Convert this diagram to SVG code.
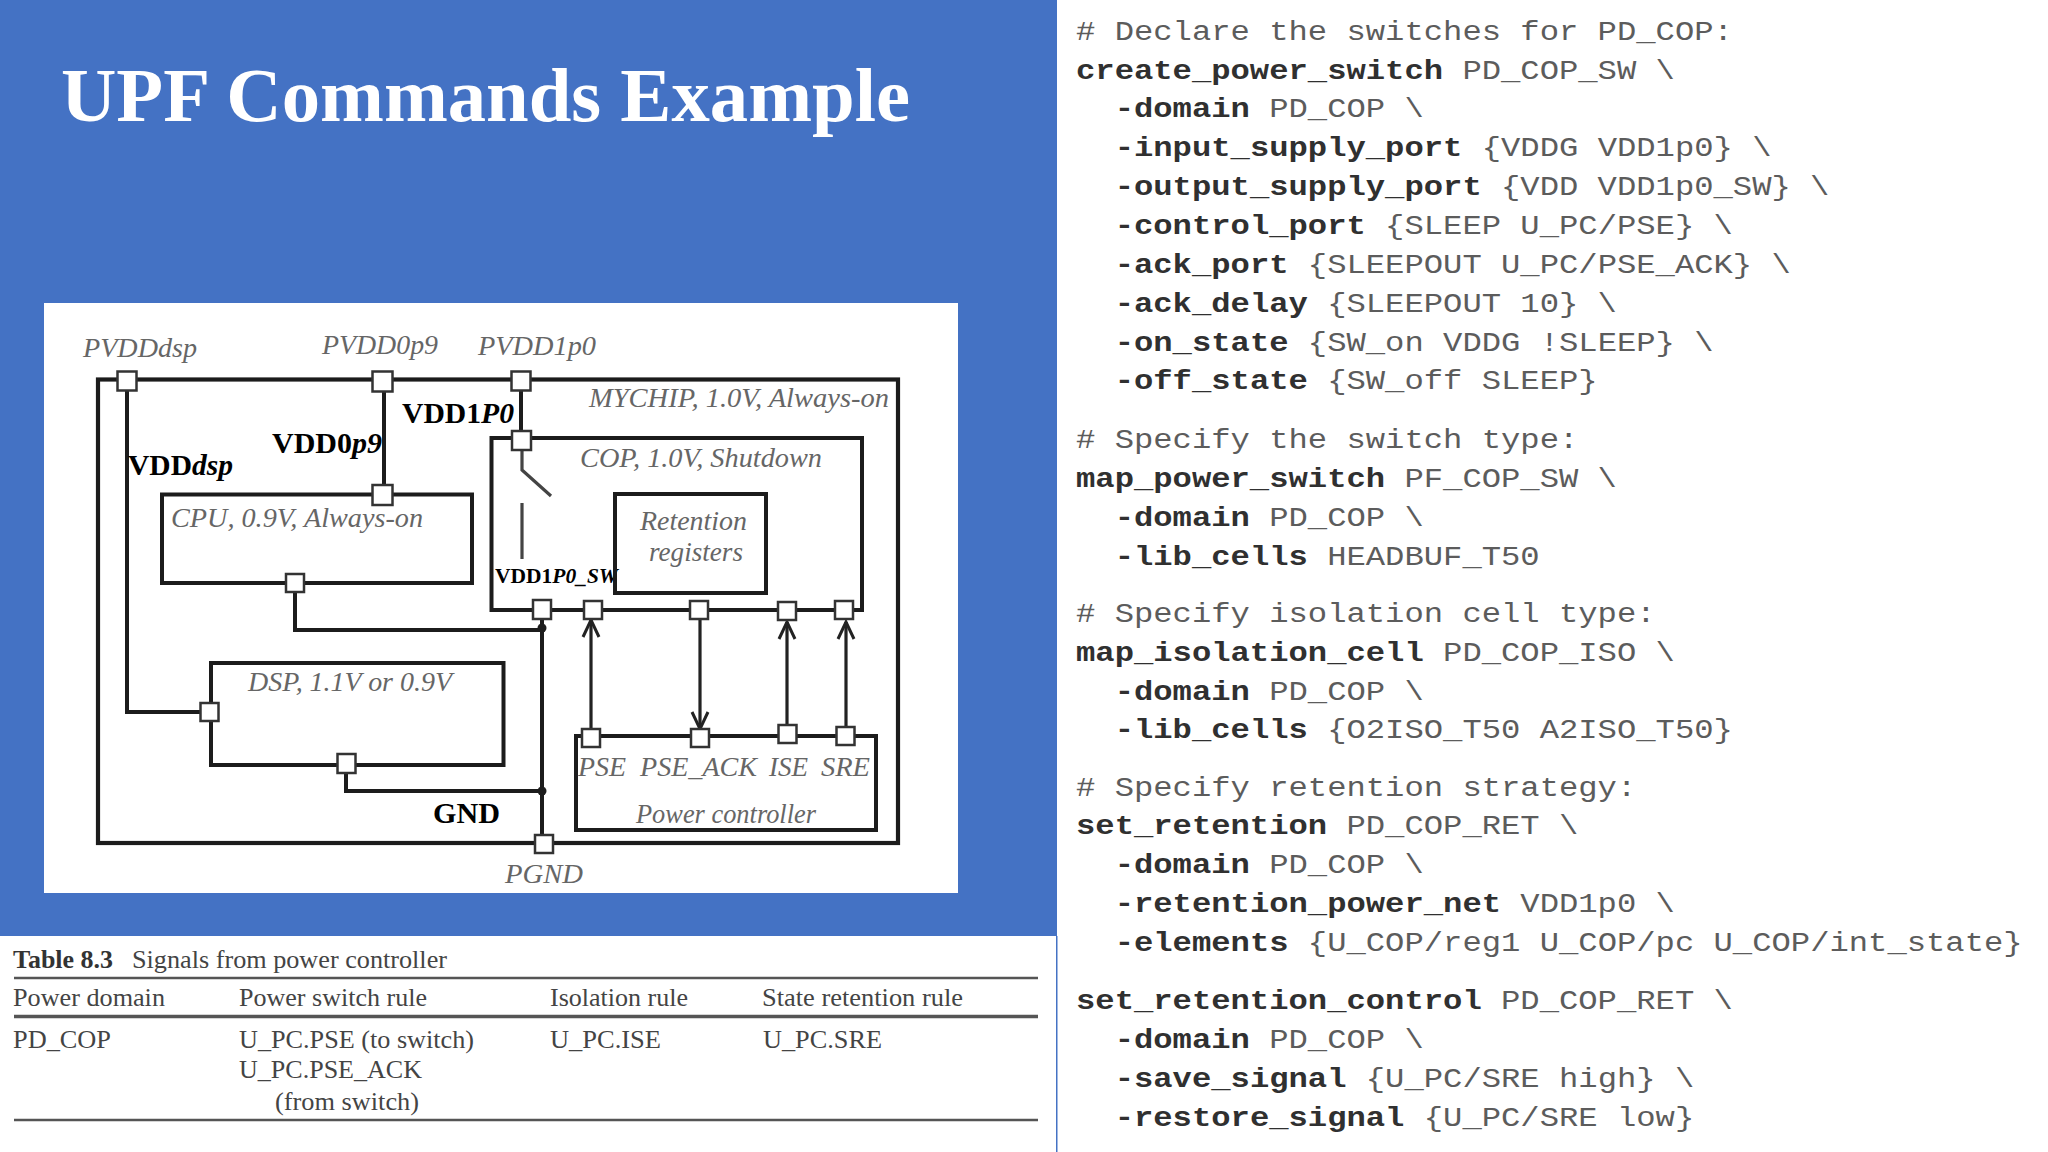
<svg xmlns="http://www.w3.org/2000/svg" width="2048" height="1152" viewBox="0 0 2048 1152">
<defs>
<marker id="open" markerUnits="userSpaceOnUse" markerWidth="24" markerHeight="24" refX="21" refY="12" orient="auto"><path d="M4 4 L21 12 L4 20" fill="none" stroke="#222" stroke-width="3"/></marker>
</defs>
<style>
.box{fill:none;stroke:#1c1c1c;stroke-width:4.2}
.thin{stroke-width:4}
.pad{fill:#fff;stroke:#333;stroke-width:2.5}
.wire{fill:none;stroke:#1c1c1c;stroke-width:4}
.sig{fill:none;stroke:#222;stroke-width:3.2;marker-end:url(#open)}
.sw{fill:none;stroke:#444;stroke-width:3.2}
.lab{font:italic 27px "Liberation Serif",serif;fill:#666}
.blk{font:bold 29px "Liberation Serif",serif;fill:#000}
.blk tspan{font-style:italic}
.tb{font:25px "Liberation Serif",serif;fill:#444}
.rule{stroke:#555;fill:none}
.code{font:27px "Liberation Mono",monospace;fill:#5c5c5c}
.code .k{font-weight:bold;fill:#303030}
</style>
<rect width="2048" height="1152" fill="#fff"/>
<rect width="1057" height="936" fill="#4472c4"/>
<rect x="1056" y="936" width="1.5" height="216" fill="#4472c4"/>
<text x="61" y="121" font-family="Liberation Serif, serif" font-weight="bold" font-size="76" fill="#fff" textLength="849" lengthAdjust="spacingAndGlyphs">UPF Commands Example</text>
<rect x="44" y="303" width="914" height="590" fill="#fff"/>

<g id="connectors">
<path class="wire" d="M127 381V712H209"/>
<path class="wire" d="M384 381V495"/>
<path class="wire" d="M521 381V440"/>
<path class="sw" d="M522 440V470L551 496"/>
<path class="sw" d="M522 503V559"/>
<path class="wire" d="M295 583V630H542"/>
<path class="wire" d="M346 765V791H542"/>
<path class="wire" d="M542 610V844"/>
<circle cx="542" cy="628" r="4.5" fill="#1c1c1c"/>
<circle cx="542" cy="791" r="4.5" fill="#1c1c1c"/>
<path class="sig" d="M591 738V620"/>
<path class="sig" d="M700 610V729"/>
<path class="sig" d="M787 734V622"/>
<path class="sig" d="M846 736V622"/>
</g>

<g id="mychip">
<rect class="box" x="98" y="379.500" width="800" height="463.500"/>
<text class="lab" x="589" y="407" textLength="300" lengthAdjust="spacingAndGlyphs">MYCHIP, 1.0V, Always-on</text>
<rect class="pad" x="117.500" y="371.500" width="19" height="19"/>
<rect class="pad" x="372.500" y="371.500" width="20" height="20"/>
<rect class="pad" x="511.500" y="371.500" width="19" height="19"/>
<rect class="pad" x="535" y="835" width="18" height="18"/>
<text class="lab" x="83" y="357" textLength="114" lengthAdjust="spacingAndGlyphs">PVDDdsp</text>
<text class="lab" x="322" y="354" textLength="116" lengthAdjust="spacingAndGlyphs">PVDD0p9</text>
<text class="lab" x="478" y="355" textLength="118" lengthAdjust="spacingAndGlyphs">PVDD1p0</text>
<text class="lab" x="505" y="883" textLength="78" lengthAdjust="spacingAndGlyphs">PGND</text>
<text class="blk" x="128" y="475" textLength="105" lengthAdjust="spacingAndGlyphs">VDD<tspan>dsp</tspan></text>
<text class="blk" x="272" y="453" textLength="110" lengthAdjust="spacingAndGlyphs">VDD0<tspan>p9</tspan></text>
<text class="blk" x="402" y="423" textLength="112" lengthAdjust="spacingAndGlyphs">VDD1<tspan>P0</tspan></text>
<text class="blk" x="433" y="823" textLength="67" lengthAdjust="spacingAndGlyphs">GND</text>
</g>

<g id="cpu">
<rect class="box thin" x="162" y="494.500" width="310" height="88.500"/>
<text class="lab" x="171" y="527" textLength="252" lengthAdjust="spacingAndGlyphs">CPU, 0.9V, Always-on</text>
<rect class="pad" x="372.500" y="485" width="20" height="20"/>
<rect class="pad" x="286" y="574" width="18" height="18"/>
</g>

<g id="dsp">
<rect class="box thin" x="211" y="663" width="292.500" height="102"/>
<text class="lab" x="248" y="691" textLength="204" lengthAdjust="spacingAndGlyphs">DSP, 1.1V or 0.9V</text>
<rect class="pad" x="200.500" y="703" width="18" height="18"/>
<rect class="pad" x="337.500" y="754" width="18" height="19"/>
</g>

<g id="cop">
<rect class="box thin" x="491.500" y="438" width="370.500" height="172"/>
<text class="lab" x="580" y="467" textLength="242" lengthAdjust="spacingAndGlyphs">COP, 1.0V, Shutdown</text>
<rect class="pad" x="512" y="431" width="19" height="19"/>
<rect class="pad" x="533" y="600" width="18" height="19"/>
<rect class="pad" x="584" y="601" width="18" height="18"/>
<rect class="pad" x="690" y="601" width="18" height="18"/>
<rect class="pad" x="778" y="602" width="18" height="18"/>
<rect class="pad" x="835" y="601" width="18" height="18"/>
<text x="495" y="583" font-family="Liberation Serif, serif" font-weight="bold" font-size="21" textLength="123" lengthAdjust="spacingAndGlyphs">VDD1<tspan font-style="italic">P0_SW</tspan></text>
</g>

<g id="retention">
<rect class="box thin" x="615" y="494" width="151" height="99"/>
<text class="lab" x="640" y="530" textLength="107" lengthAdjust="spacingAndGlyphs">Retention</text>
<text class="lab" x="649" y="561" textLength="94" lengthAdjust="spacingAndGlyphs">registers</text>
</g>

<g id="power-controller">
<rect class="box thin" x="576" y="736" width="300" height="94"/>
<rect class="pad" x="582" y="729" width="18" height="18"/>
<rect class="pad" x="691" y="729" width="18" height="18"/>
<rect class="pad" x="778.500" y="725" width="18" height="18"/>
<rect class="pad" x="836.500" y="727" width="18" height="18"/>
<text class="lab" x="578" y="776" textLength="48" lengthAdjust="spacingAndGlyphs">PSE</text>
<text class="lab" x="640" y="776" textLength="117" lengthAdjust="spacingAndGlyphs">PSE_ACK</text>
<text class="lab" x="769" y="776" textLength="39" lengthAdjust="spacingAndGlyphs">ISE</text>
<text class="lab" x="821" y="776" textLength="49" lengthAdjust="spacingAndGlyphs">SRE</text>
<text class="lab" x="636" y="823" textLength="180" lengthAdjust="spacingAndGlyphs">Power controller</text>
</g>

<g id="table">
<text class="tb" x="13" y="968" textLength="100" lengthAdjust="spacingAndGlyphs" style="font-weight:bold;fill:#333">Table 8.3</text>
<text class="tb" x="132" y="968" textLength="315" lengthAdjust="spacingAndGlyphs">Signals from power controller</text>
<path class="rule" stroke-width="2.500" d="M14 978H1038"/>
<text class="tb" x="13" y="1006" textLength="152" lengthAdjust="spacingAndGlyphs">Power domain</text>
<text class="tb" x="239" y="1006" textLength="188" lengthAdjust="spacingAndGlyphs">Power switch rule</text>
<text class="tb" x="550" y="1006" textLength="138" lengthAdjust="spacingAndGlyphs">Isolation rule</text>
<text class="tb" x="762" y="1006" textLength="201" lengthAdjust="spacingAndGlyphs">State retention rule</text>
<path class="rule" stroke-width="3.500" d="M14 1016.500H1038"/>
<text class="tb" x="13" y="1048" textLength="98" lengthAdjust="spacingAndGlyphs">PD_COP</text>
<text class="tb" x="239" y="1048" textLength="235" lengthAdjust="spacingAndGlyphs">U_PC.PSE (to switch)</text>
<text class="tb" x="239" y="1078" textLength="183" lengthAdjust="spacingAndGlyphs">U_PC.PSE_ACK</text>
<text class="tb" x="275" y="1110" textLength="144" lengthAdjust="spacingAndGlyphs">(from switch)</text>
<text class="tb" x="550" y="1048" textLength="111" lengthAdjust="spacingAndGlyphs">U_PC.ISE</text>
<text class="tb" x="763" y="1048" textLength="119" lengthAdjust="spacingAndGlyphs">U_PC.SRE</text>
<path class="rule" stroke-width="2.500" d="M14 1120H1038"/>
</g>

<g id="code" transform="translate(1076 0) scale(1.193 1)" class="code" xml:space="preserve">
<text y="40"># Declare the switches for PD_COP:</text>
<text y="79"><tspan class="k">create_power_switch</tspan> PD_COP_SW \</text>
<text x="32.400" y="117"><tspan class="k">-domain</tspan> PD_COP \</text>
<text x="32.400" y="156"><tspan class="k">-input_supply_port</tspan> {VDDG VDD1p0} \</text>
<text x="32.400" y="195"><tspan class="k">-output_supply_port</tspan> {VDD VDD1p0_SW} \</text>
<text x="32.400" y="234"><tspan class="k">-control_port</tspan> {SLEEP U_PC/PSE} \</text>
<text x="32.400" y="273"><tspan class="k">-ack_port</tspan> {SLEEPOUT U_PC/PSE_ACK} \</text>
<text x="32.400" y="312"><tspan class="k">-ack_delay</tspan> {SLEEPOUT 10} \</text>
<text x="32.400" y="351"><tspan class="k">-on_state</tspan> {SW_on VDDG !SLEEP} \</text>
<text x="32.400" y="389"><tspan class="k">-off_state</tspan> {SW_off SLEEP}</text>
<text y="448"># Specify the switch type:</text>
<text y="487"><tspan class="k">map_power_switch</tspan> PF_COP_SW \</text>
<text x="32.400" y="526"><tspan class="k">-domain</tspan> PD_COP \</text>
<text x="32.400" y="565"><tspan class="k">-lib_cells</tspan> HEADBUF_T50</text>
<text y="622"># Specify isolation cell type:</text>
<text y="661"><tspan class="k">map_isolation_cell</tspan> PD_COP_ISO \</text>
<text x="32.400" y="700"><tspan class="k">-domain</tspan> PD_COP \</text>
<text x="32.400" y="738"><tspan class="k">-lib_cells</tspan> {O2ISO_T50 A2ISO_T50}</text>
<text y="796"># Specify retention strategy:</text>
<text y="834"><tspan class="k">set_retention</tspan> PD_COP_RET \</text>
<text x="32.400" y="873"><tspan class="k">-domain</tspan> PD_COP \</text>
<text x="32.400" y="912"><tspan class="k">-retention_power_net</tspan> VDD1p0 \</text>
<text x="32.400" y="951"><tspan class="k">-elements</tspan> {U_COP/reg1 U_COP/pc U_COP/int_state}</text>
<text y="1009"><tspan class="k">set_retention_control</tspan> PD_COP_RET \</text>
<text x="32.400" y="1048"><tspan class="k">-domain</tspan> PD_COP \</text>
<text x="32.400" y="1087"><tspan class="k">-save_signal</tspan> {U_PC/SRE high} \</text>
<text x="32.400" y="1126"><tspan class="k">-restore_signal</tspan> {U_PC/SRE low}</text>
</g>
</svg>
